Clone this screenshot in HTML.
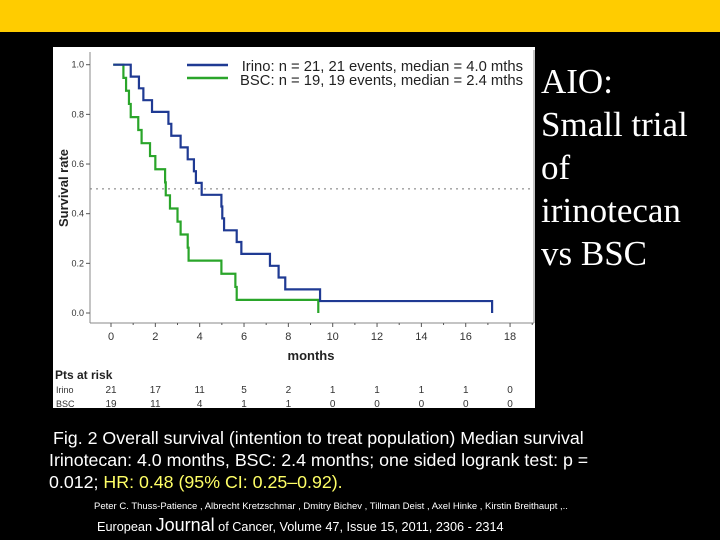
<!DOCTYPE html>
<html><head><meta charset="utf-8"><style>
html,body{margin:0;padding:0;background:#000;}
svg{display:block;}
</style></head><body>
<svg width="720" height="540" viewBox="0 0 720 540" xmlns="http://www.w3.org/2000/svg">
<rect x="0" y="0" width="720" height="540" fill="#000"/>
<rect x="0" y="0" width="720" height="32" fill="#ffcc00"/>
<rect x="53" y="47" width="482" height="361" fill="#fff"/>
<g id="chart"></g>
<g font-family="Liberation Serif, serif" font-size="35" fill="#fff">
<text x="541" y="93">AIO:</text>
<text x="541" y="136">Small trial</text>
<text x="541" y="179">of</text>
<text x="541" y="222">irinotecan</text>
<text x="541" y="265">vs BSC</text>
</g>
<g font-family="Liberation Sans, sans-serif" font-size="17.8" fill="#fff">
<text x="53" y="444">Fig. 2 Overall survival (intention to treat population) Median survival</text>
<text x="49" y="466">Irinotecan: 4.0 months, BSC: 2.4 months; one sided logrank test: p =</text>
<text x="49" y="488">0.012; <tspan fill="#ffff66">HR: 0.48 (95% CI: 0.25–0.92).</tspan></text>
</g>
<text x="94" y="509" font-family="Liberation Sans, sans-serif" font-size="9.5" fill="#fff">Peter C.  Thuss-Patience , Albrecht  Kretzschmar , Dmitry  Bichev , Tillman  Deist , Axel  Hinke , Kirstin  Breithaupt ,..</text>
<text x="97" y="531" font-family="Liberation Sans, sans-serif" font-size="12.7" fill="#fff">European <tspan font-size="18">Journal</tspan> of Cancer, Volume 47, Issue 15, 2011, 2306 - 2314</text>
</svg>
<script>
const irinoTimes=[0.1,0.89,1.26,1.46,1.85,2.59,2.72,3.14,3.46,3.74,3.83,4.09,4.98,5.02,5.10,5.67,5.88,7.17,7.56,7.86,9.43,17.19];
const irinoSurv=[1.0,0.952,0.905,0.857,0.81,0.762,0.714,0.667,0.619,0.571,0.524,0.476,0.429,0.381,0.333,0.286,0.238,0.19,0.143,0.095,0.048,0];
const bscTimes=[0.1,0.56,0.68,0.81,0.89,1.23,1.38,1.76,2.0,2.44,2.47,2.66,3.0,3.14,3.46,3.5,4.98,5.61,5.67,9.35];
const bscSurv=[1.0,0.947,0.895,0.842,0.789,0.737,0.684,0.632,0.579,0.526,0.474,0.421,0.368,0.316,0.263,0.211,0.158,0.105,0.053,0];
const xTicks=[0,2,4,6,8,10,12,14,16,18];
const yTicks=[0,0.2,0.4,0.6,0.8,1.0];
const riskIrino=[21,17,11,5,2,1,1,1,1,0];
const riskBsc=[19,11,4,1,1,0,0,0,0,0];
const NS='http://www.w3.org/2000/svg';
const g=document.getElementById('chart');
const X=t=>111+t*22.17;
const Y=v=>313-v*248.3;
function mk(tag,attrs,parent){const e=document.createElementNS(NS,tag);for(const k in attrs)e.setAttribute(k,attrs[k]);(parent||g).appendChild(e);return e;}
let ax=mk('line',{x1:90,y1:52,x2:90,y2:323,stroke:'#888','stroke-width':1});


let bx=mk('line',{x1:90,y1:323,x2:534,y2:323,stroke:'#888','stroke-width':1});


let rb=mk('line',{x1:534,y1:50,x2:534,y2:323,stroke:'#888','stroke-width':1});


yTicks.forEach(v=>{
  mk('line',{x1:86,y1:Y(v),x2:90,y2:Y(v),stroke:'#555'});
  const t=mk('text',{x:84,y:Y(v)+3,'text-anchor':'end','font-family':'Liberation Sans, sans-serif','font-size':9,fill:'#333'});
  t.textContent=v.toFixed(1);
  
  
});
for(let m=0;m<=19;m++){mk('line',{x1:X(m),y1:323,x2:X(m),y2:m%2?325:327,stroke:'#555'});}
xTicks.forEach(m=>{
  const t=mk('text',{x:X(m),y:340,'text-anchor':'middle','font-family':'Liberation Sans, sans-serif','font-size':11,fill:'#333'});
  t.textContent=m;
  
  
});
let yt=mk('text',{x:0,y:0,transform:'translate(68,188) rotate(-90)','text-anchor':'middle','font-family':'Liberation Sans, sans-serif','font-size':13,'font-weight':'bold',fill:'#222'});
yt.textContent='Survival rate';


let xt=mk('text',{x:311,y:360,'text-anchor':'middle','font-family':'Liberation Sans, sans-serif','font-size':13,'font-weight':'bold',fill:'#222'});
xt.textContent='months';


let md=mk('line',{x1:90,y1:Y(0.5),x2:534,y2:Y(0.5),stroke:'#777','stroke-width':1,'stroke-dasharray':'2,4'});


function stepPath(ts,ss){let d='M'+X(ts[0])+','+Y(ss[0]);for(let i=1;i<ts.length;i++){d+=' H'+X(ts[i])+' V'+Y(ss[i]);}return d;}
let pb=mk('path',{d:stepPath(bscTimes,bscSurv),fill:'none',stroke:'#2aa52a','stroke-width':2.2});


let pi=mk('path',{d:stepPath(irinoTimes,irinoSurv),fill:'none',stroke:'#1f3a93','stroke-width':2.2});


let l1=mk('line',{x1:187,y1:65,x2:228,y2:65,stroke:'#1f3a93','stroke-width':2.5});


let l2=mk('line',{x1:187,y1:78,x2:228,y2:78,stroke:'#2aa52a','stroke-width':2.5});


let t1=mk('text',{x:523,y:71,'text-anchor':'end','font-family':'Liberation Sans, sans-serif','font-size':14.8,fill:'#222'});
t1.textContent='Irino: n = 21, 21 events, median = 4.0 mths';


let t2=mk('text',{x:523,y:85,'text-anchor':'end','font-family':'Liberation Sans, sans-serif','font-size':14.8,fill:'#222'});
t2.textContent='BSC: n = 19, 19 events, median = 2.4 mths';


let rt=mk('text',{x:55,y:379,'font-family':'Liberation Sans, sans-serif','font-size':12,'font-weight':'bold',fill:'#222'});
rt.textContent='Pts at risk';


[['Irino',riskIrino,393],['BSC',riskBsc,407]].forEach(([lab,arr,y])=>{
  const l=mk('text',{x:56,y:y,'font-family':'Liberation Sans, sans-serif','font-size':9,fill:'#333'});
  l.textContent=lab;
  
  
  arr.forEach((v,i)=>{
    const c=mk('text',{x:X(xTicks[i]),y:y,'text-anchor':'middle','font-family':'Liberation Sans, sans-serif','font-size':10,fill:'#333'});
    c.textContent=v;
    
    
  });
});
</script>
</body></html>
